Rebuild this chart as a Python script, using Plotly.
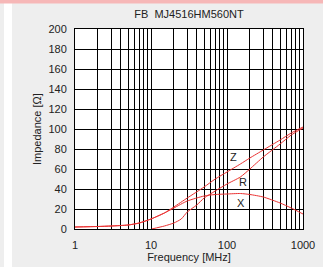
import math
import plotly.graph_objects as go

freq_z = [1, 2, 3, 5, 7, 10, 15, 20, 30, 50, 70, 100, 150, 200, 300, 500, 700, 1000]
z_vals = [2, 2.5, 3, 4, 6, 10, 16, 22, 31, 42, 50, 57, 65, 71, 79, 89, 96, 102]

freq_x = [1, 2, 3, 5, 7, 10, 15, 20, 30, 50, 70, 100, 150, 200, 300, 500, 700, 1000]
x_vals = [2, 2.5, 3, 4, 6, 10, 16, 21, 28, 33, 34.5, 35, 35.5, 34.5, 32, 26, 21, 15]

freq_r = [10.2, 15, 20, 25, 30, 40, 50, 70, 100, 150, 200, 300, 500, 700, 1000]
r_vals = [0, 3, 6, 10, 17, 24, 31, 38, 45, 52, 60, 72, 85, 94, 101]

labels = ["Z", "R", "X"]
label_freq = [120, 161, 151]
label_val = [72, 47, 26]

title = "FB  MJ4516HM560NT"
x_title = "Frequency [MHz]"
y_title = "Impedance [Ω]"

x_tickvals = [m * 10 ** d for d in range(3) for m in range(1, 10)] + [1000]
x_ticktext = [str(v) if v in (1, 10, 100, 1000) else "" for v in x_tickvals]

RED = "rgb(235,50,50)"
FONT = "Liberation Sans, Arial, sans-serif"

fig = go.Figure()
for fx, fy in [(freq_z, z_vals), (freq_x, x_vals), (freq_r, r_vals)]:
    fig.add_trace(go.Scatter(x=fx, y=fy, mode="lines",
                             line=dict(color=RED, width=1, shape="spline", smoothing=0.6),
                             showlegend=False, hoverinfo="skip"))

for t, fx, fy in zip(labels, label_freq, label_val):
    fig.add_annotation(x=math.log10(fx), y=fy, xref="x", yref="y", text=t, showarrow=False,
                       font=dict(size=11, color="#222", family=FONT))

L, R_, T, B = 75, 20, 29, 38
W, H = 323, 267
pw, ph = W - L - R_, H - T - B

def px_x(px):
    return (px - L) / pw

def px_y(py):
    return (H - B - py) / ph

# y-axis title as rotated annotation
fig.add_annotation(x=px_x(37), y=0.5, xref="paper", yref="paper", text=y_title,
                   textangle=-90, showarrow=False, xanchor="center", yanchor="middle",
                   font=dict(size=11, color="#222", family=FONT))

# white strip at left and pink band at top
fig.add_shape(type="rect", xref="paper", yref="paper", x0=px_x(4), x1=px_x(12),
              y0=px_y(H), y1=px_y(0), fillcolor="white", line_width=0, layer="below")
fig.add_shape(type="rect", xref="paper", yref="paper", x0=px_x(0), x1=px_x(W),
              y0=px_y(3.5), y1=px_y(0), fillcolor="#f6b7b7", line_width=0, layer="below")

fig.update_layout(
    width=W, height=H,
    margin=dict(l=L, r=R_, t=T, b=B, autoexpand=False),
    paper_bgcolor="#eeeeee", plot_bgcolor="white",
    font=dict(family=FONT, size=11, color="#222"),
    title=dict(text=title, x=(189) / W, xanchor="center", y=1 - 14 / H, yanchor="middle",
               font=dict(size=11, family=FONT, color="#222")),
    xaxis=dict(type="log", range=[0, 3], tickvals=x_tickvals, ticktext=x_ticktext,
               showgrid=True, gridcolor="black", gridwidth=1, automargin=False,
               showline=True, linecolor="black", linewidth=1, mirror=True,
               ticks="", ticklabelstandoff=6, zeroline=False,
               title=dict(text=x_title, standoff=3, font=dict(size=11))),
    yaxis=dict(range=[0, 200], dtick=20, showgrid=True, gridcolor="black", gridwidth=1,
               automargin=False,
               showline=True, linecolor="black", linewidth=1, mirror=True,
               ticks="", ticklabelstandoff=5, zeroline=False),
)

fig.write_html("out.html", config={"displayModeBar": False},
               post_script="document.body.style.margin='0';document.body.style.overflow='hidden';")
